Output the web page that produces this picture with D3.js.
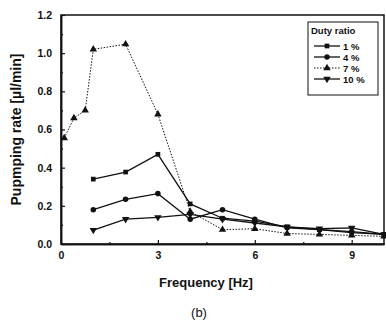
<!DOCTYPE html>
<html>
<head>
<meta charset="utf-8">
<script src="https://cdn.jsdelivr.net/npm/d3@7"></script>
<style>
  html, body { margin: 0; padding: 0; background: #fff; overflow: hidden; }
  svg { display: block; font-family: "Liberation Sans", Arial, sans-serif; }
</style>
</head>
<body>
<div id="chart"></div>
<script>
// values
const freqMain = [1, 2, 3, 4, 5, 6, 7, 8, 9, 10];
const freq7 = [0.1, 0.4, 0.75, 1, 2, 3, 4, 5, 6, 7, 8, 9, 10];
const rate1 = [0.34, 0.377, 0.47, 0.21, 0.135, 0.12, 0.09, 0.075, 0.06, 0.05];
const rate4 = [0.18, 0.234, 0.264, 0.13, 0.18, 0.13, 0.085, 0.075, 0.065, 0.05];
const rate7 = [0.555, 0.66, 0.70, 1.02, 1.047, 0.68, 0.17, 0.075, 0.08, 0.055, 0.05, 0.045, 0.04];
const rate10 = [0.073, 0.13, 0.14, 0.155, 0.13, 0.11, 0.09, 0.08, 0.085, 0.05];
const seriesNames = ['1 %', '4 %', '7 %', '10 %'];
const xTicks = [0, 3, 6, 9];
const xMinorTicks = [1.5, 4.5, 7.5];
const yTicks = [0, 0.2, 0.4, 0.6, 0.8, 1.0, 1.2];
const yMinorTicks = [0.1, 0.3, 0.5, 0.7, 0.9, 1.1];

const width = 386;
const height = 322;
const margin = { top: 15, right: 2, bottom: 78, left: 61 };
const innerWidth = width - margin.left - margin.right;
const innerHeight = height - margin.top - margin.bottom;

const series = [
  { name: seriesNames[0], xs: freqMain, ys: rate1, symbol: d3.symbolSquare, size: 22, dash: null, rot: 0 },
  { name: seriesNames[1], xs: freqMain, ys: rate4, symbol: d3.symbolCircle, size: 24, dash: null, rot: 0 },
  { name: seriesNames[2], xs: freq7, ys: rate7, symbol: d3.symbolTriangle, size: 24, dash: '1.5 1.5', rot: 0 },
  { name: seriesNames[3], xs: freqMain, ys: rate10, symbol: d3.symbolTriangle, size: 24, dash: null, rot: 180 }
];

const x = d3.scaleLinear().domain([0, 10]).range([0, innerWidth]);
const y = d3.scaleLinear().domain([0, 1.2]).range([innerHeight, 0]);

const svg = d3.select('#chart').append('svg')
  .attr('width', width)
  .attr('height', height);

const plot = svg.append('g')
  .attr('transform', `translate(${margin.left},${margin.top})`);

// frame
plot.append('rect')
  .attr('width', innerWidth)
  .attr('height', innerHeight)
  .attr('fill', 'none')
  .attr('stroke', '#111')
  .attr('stroke-width', 1.5);

// axes, ticks point inward
plot.append('g')
  .attr('transform', `translate(0,${innerHeight})`)
  .call(d3.axisBottom(x).tickValues(xTicks).tickSizeInner(-4).tickSizeOuter(0).tickPadding(8).tickFormat(d3.format('d')));
plot.append('g')
  .attr('class', 'minor')
  .attr('transform', `translate(0,${innerHeight})`)
  .call(d3.axisBottom(x).tickValues(xMinorTicks).tickSizeInner(-2).tickSizeOuter(0));

plot.append('g')
  .call(d3.axisLeft(y).tickValues(yTicks).tickSizeInner(-4).tickSizeOuter(0).tickPadding(9).tickFormat(d3.format('.1f')));
plot.append('g')
  .attr('class', 'minor')
  .call(d3.axisLeft(y).tickValues(yMinorTicks).tickSizeInner(-2).tickSizeOuter(0));

// minor ticks carry no labels
plot.selectAll('.minor .tick text').remove();

plot.selectAll('.domain').attr('stroke', '#111').attr('stroke-width', 1.5);
plot.selectAll('.tick line').attr('stroke', '#111').attr('stroke-width', 1.2);
plot.selectAll('.tick text')
  .attr('fill', '#111')
  .attr('font-size', 10.5)
  .attr('font-weight', 700);

// series
const line = d3.line();
series.forEach((s) => {
  const pts = s.xs.map((v, i) => [x(v), y(s.ys[i])]);
  plot.append('path')
    .attr('d', line(pts))
    .attr('fill', 'none')
    .attr('stroke', '#111')
    .attr('stroke-width', s.dash ? 1 : 1.3)
    .attr('stroke-dasharray', s.dash);

  plot.selectAll(null)
    .data(pts)
    .join('path')
    .attr('transform', (p) => `translate(${p[0]},${p[1]}) rotate(${s.rot})`)
    .attr('d', d3.symbol(s.symbol, s.size))
    .attr('fill', '#111');
});

// axis titles
svg.append('text')
  .attr('transform', `translate(21,${margin.top + innerHeight / 2}) rotate(-90)`)
  .attr('text-anchor', 'middle')
  .attr('font-size', 14)
  .attr('font-weight', 700)
  .attr('fill', '#111')
  .text('Pupmping rate [µl/min]');

svg.append('text')
  .attr('x', 206)
  .attr('y', 287)
  .attr('text-anchor', 'middle')
  .attr('font-size', 13)
  .attr('font-weight', 700)
  .attr('fill', '#111')
  .text('Frequency [Hz]');

svg.append('text')
  .attr('x', 199)
  .attr('y', 317)
  .attr('text-anchor', 'middle')
  .attr('font-size', 13)
  .attr('fill', '#111')
  .text('(b)');

// legend
const legend = svg.append('g').attr('transform', 'translate(308,22)');
legend.append('rect')
  .attr('width', 70)
  .attr('height', 73)
  .attr('fill', '#fff')
  .attr('stroke', '#111')
  .attr('stroke-width', 1);
legend.append('text')
  .attr('x', 3)
  .attr('y', 12)
  .attr('font-size', 9.5)
  .attr('font-weight', 700)
  .attr('fill', '#111')
  .text('Duty ratio');

series.forEach((s, i) => {
  const row = legend.append('g').attr('transform', `translate(0,${24 + i * 11})`);
  row.append('line')
    .attr('x1', 6)
    .attr('x2', 32)
    .attr('stroke', '#111')
    .attr('stroke-width', s.dash ? 1 : 1.3)
    .attr('stroke-dasharray', s.dash);
  row.append('path')
    .attr('transform', `translate(19,0) rotate(${s.rot})`)
    .attr('d', d3.symbol(s.symbol, s.size))
    .attr('fill', '#111');
  row.append('text')
    .attr('x', 35)
    .attr('y', 3.5)
    .attr('font-size', 9.5)
    .attr('font-weight', 700)
    .attr('fill', '#111')
    .text(s.name);
});
</script>
</body>
</html>
